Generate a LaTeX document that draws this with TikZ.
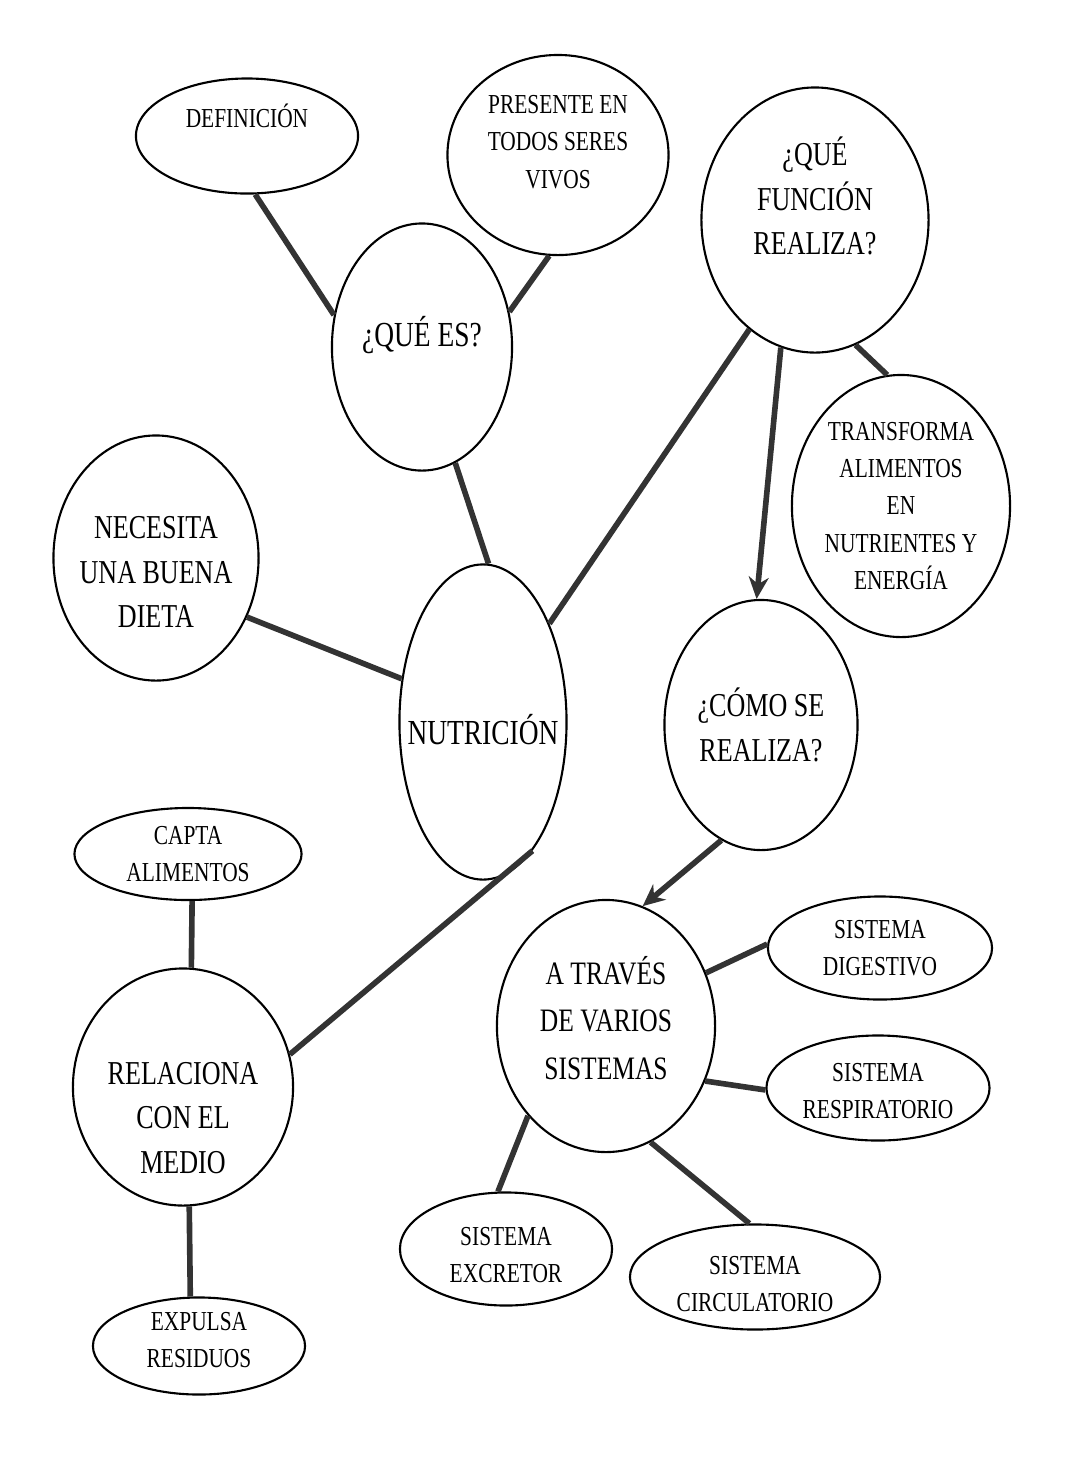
\documentclass[tikz,border=0pt]{standalone}
\usepackage{fontspec}
\setmainfont{Liberation Serif}[FakeStretch=0.78]
\usetikzlibrary{shapes.geometric,arrows.meta}

\begin{document}
\begin{tikzpicture}[
    x=0.01cm, y=-0.01cm,
    bubble/.style 2 args={ellipse, draw, line width=0.6pt, inner sep=0pt, minimum width=#1, minimum height=#2},
    every label/.style={align=center},
    tsmall/.style={font=\fontsize{7.8}{10.6}\selectfont},
    tbig/.style={font=\fontsize{9.5}{12.6}\selectfont},
    tlarge/.style={font=\fontsize{10}{12.6}\selectfont},
    link/.style={line width=1.6pt, draw=black!80},
    arr/.style={link, -{Stealth[length=0.22cm, width=0.2cm]}},
]
\useasboundingbox (0,0) rectangle (1070,1465);
% Nodes
\node[bubble={2.22cm}{1.15cm}, label={[tsmall, yshift=0.2cm]center:DEFINICIÓN}] (def) at (247,136) {};
\node[bubble={2.21cm}{2.0cm}, label={[tsmall, yshift=0.13cm]center:PRESENTE EN\\TODOS SERES\\VIVOS}] (pres) at (558,155) {};
\node[bubble={2.27cm}{2.65cm}, label={[tbig, yshift=0.24cm]center:¿QUÉ\\FUNCIÓN\\REALIZA?}] (func) at (815,220) {};
\node[bubble={1.8cm}{2.47cm}, label={[tlarge, yshift=0.12cm]center:¿QUÉ ES?}] (quees) at (422,347) {};
\node[bubble={2.18cm}{2.62cm}, label={[tsmall]center:TRANSFORMA\\ALIMENTOS\\EN\\NUTRIENTES Y\\ENERGÍA}] (transf) at (901,506) {};
\node[bubble={2.05cm}{2.45cm}, label={[tbig, yshift=-0.14cm]center:NECESITA\\UNA BUENA\\DIETA}] (dieta) at (156,558) {};
\node[bubble={1.67cm}{3.15cm}, label={[tlarge, yshift=-0.08cm]center:NUTRICIÓN}] (nut) at (483,722) {};
\node[bubble={1.93cm}{2.5cm}, label={[tbig]center:¿CÓMO SE\\REALIZA?}] (como) at (761,725) {};
\node[bubble={2.27cm}{0.92cm}, label={[tsmall]center:CAPTA\\ALIMENTOS}] (capta) at (188,854) {};
\node[bubble={2.2cm}{2.37cm}, label={[tbig, yshift=-0.31cm]center:RELACIONA\\CON EL\\MEDIO}] (medio) at (183,1087) {};
\node[bubble={2.18cm}{2.52cm}, label={[font=\fontsize{9.3}{13.4}\selectfont, yshift=0.08cm]center:A TRAVÉS\\DE VARIOS\\SISTEMAS}] (sist) at (606,1026) {};
\node[bubble={2.24cm}{1.03cm}, label={[tsmall]center:SISTEMA\\DIGESTIVO}] (dig) at (880,948) {};
\node[bubble={2.23cm}{1.05cm}, label={[tsmall, yshift=-0.03cm]center:SISTEMA\\RESPIRATORIO}] (resp) at (878,1088) {};
\node[bubble={2.12cm}{1.13cm}, label={[tsmall, yshift=-0.06cm]center:SISTEMA\\EXCRETOR}] (excr) at (506,1249) {};
\node[bubble={2.5cm}{1.05cm}, label={[tsmall, yshift=-0.07cm]center:SISTEMA\\CIRCULATORIO}] (circ) at (755,1277) {};
\node[bubble={2.12cm}{0.97cm}, label={[tsmall, yshift=0.06cm]center:EXPULSA\\RESIDUOS}] (resid) at (199,1346) {};
% Connections
\draw[link] (def.-82) -- (quees.160);
\draw[link] (pres.-95) -- (quees.22);
\draw[link] (quees.-74) -- (nut.88);
\draw[link] (dieta.-33) -- (nut.152);
\draw[link] (func.-121) -- (nut.56);
\draw[arr] (func.-105) -- (como.92);
\draw[link] (func.-72) -- (transf.96);
\draw[arr] (como.-109) -- (sist.73);
\draw[link] (nut.-69) -- (medio.17);
\draw[link] (capta.-85) -- (medio.86);
\draw[link] (medio.-87) -- (resid.100);
\draw[link] (dig.178) -- (sist.28);
\draw[link] (resp.-179) -- (sist.-29);
\draw[link] (sist.-131) -- (excr.98);
\draw[link] (sist.-69) -- (circ.96);
\end{tikzpicture}
\end{document}
